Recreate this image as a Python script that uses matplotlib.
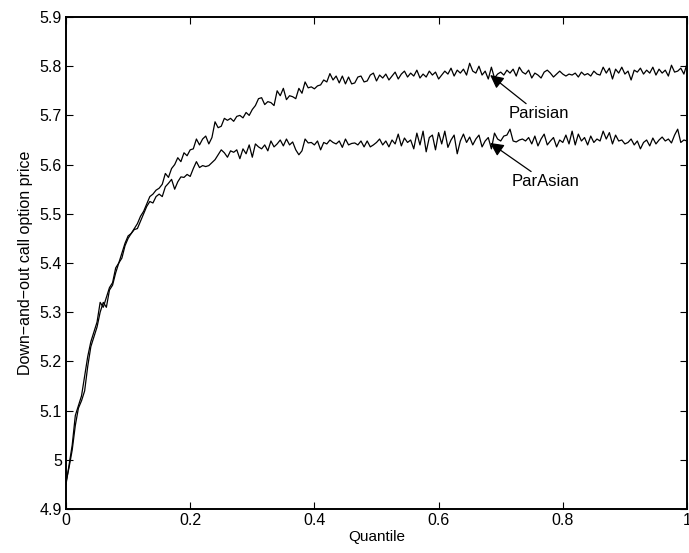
import numpy as np
import matplotlib
matplotlib.use("Agg")
import matplotlib.pyplot as plt

plt.rcParams['font.family'] = ['Liberation Sans', 'DejaVu Sans']

quantile = np.linspace(0, 1, 201)

parisian = [
    4.95, 4.99, 5.03, 5.09, 5.11, 5.13, 5.17, 5.21, 5.24, 5.26,
    5.28, 5.32, 5.31, 5.33, 5.35, 5.36, 5.39, 5.40, 5.42, 5.44,
    5.455, 5.46, 5.47, 5.48, 5.495, 5.505, 5.52, 5.535, 5.54, 5.548,
    5.552, 5.56, 5.582, 5.574, 5.592, 5.60, 5.614, 5.606, 5.624, 5.618,
    5.63, 5.632, 5.652, 5.64, 5.652, 5.658, 5.642, 5.655, 5.687, 5.675,
    5.678, 5.694, 5.69, 5.694, 5.688, 5.698, 5.70, 5.695, 5.706, 5.70,
    5.712, 5.72, 5.734, 5.736, 5.722, 5.728, 5.726, 5.72, 5.75, 5.74,
    5.755, 5.732, 5.74, 5.738, 5.734, 5.755, 5.745, 5.768, 5.756, 5.758,
    5.754, 5.76, 5.762, 5.772, 5.768, 5.785, 5.772, 5.78, 5.766, 5.78,
    5.764, 5.778, 5.764, 5.766, 5.778, 5.78, 5.768, 5.77, 5.782, 5.786,
    5.77,
    5.782, 5.776, 5.784, 5.772, 5.78, 5.788, 5.774, 5.784, 5.79, 5.778,
    5.786, 5.78, 5.792, 5.776, 5.784, 5.778, 5.79, 5.782, 5.788, 5.774,
    5.782, 5.79, 5.784, 5.796, 5.78, 5.792, 5.786, 5.794, 5.782, 5.806,
    5.79, 5.786, 5.80, 5.782, 5.79, 5.774, 5.798, 5.776, 5.784, 5.788,
    5.782, 5.792, 5.786, 5.794, 5.78, 5.798, 5.788, 5.784, 5.792, 5.776,
    5.786, 5.782, 5.776, 5.788, 5.792, 5.786, 5.778, 5.784, 5.79, 5.784,
    5.78, 5.784, 5.782, 5.786, 5.778, 5.788, 5.782, 5.785, 5.78, 5.79,
    5.784, 5.782, 5.798, 5.786, 5.796, 5.774, 5.794, 5.786, 5.798, 5.784,
    5.79, 5.772, 5.792, 5.788, 5.796, 5.784, 5.792, 5.786, 5.798, 5.782,
    5.794, 5.786, 5.792, 5.78, 5.802, 5.788, 5.79, 5.796, 5.784, 5.805,
]

parasian = [
    4.955, 4.985, 5.02, 5.07, 5.105, 5.12, 5.14, 5.19, 5.23, 5.25,
    5.27, 5.30, 5.32, 5.31, 5.345, 5.355, 5.38, 5.40, 5.41, 5.435,
    5.45, 5.46, 5.468, 5.47, 5.485, 5.50, 5.515, 5.525, 5.522, 5.535,
    5.54, 5.535, 5.555, 5.562, 5.57, 5.55, 5.565, 5.575, 5.574, 5.58,
    5.576, 5.592, 5.606, 5.594, 5.598, 5.596, 5.598, 5.604, 5.61, 5.62,
    5.63, 5.624, 5.615, 5.628, 5.625, 5.63, 5.612, 5.632, 5.622, 5.64,
    5.615, 5.642, 5.636, 5.632, 5.64, 5.628, 5.648, 5.636, 5.642, 5.65,
    5.638, 5.652, 5.64, 5.646, 5.63, 5.62, 5.628, 5.652, 5.644, 5.645,
    5.64, 5.648, 5.63, 5.645, 5.642, 5.65, 5.645, 5.642, 5.648, 5.635,
    5.652, 5.64, 5.643, 5.644, 5.64, 5.648, 5.636, 5.648, 5.636, 5.64,
    5.645,
    5.652, 5.64, 5.648, 5.636, 5.65, 5.642, 5.662, 5.638, 5.654, 5.645,
    5.65, 5.632, 5.664, 5.64, 5.668, 5.626, 5.655, 5.66, 5.63, 5.665,
    5.642, 5.668, 5.635, 5.65, 5.66, 5.622, 5.648, 5.662, 5.645, 5.656,
    5.64, 5.652, 5.66, 5.636, 5.648, 5.655, 5.632, 5.664, 5.652, 5.648,
    5.658, 5.66, 5.672, 5.648, 5.646, 5.65, 5.652, 5.648, 5.655, 5.642,
    5.658, 5.638, 5.652, 5.662, 5.64, 5.648, 5.655, 5.636, 5.65, 5.645,
    5.66, 5.642, 5.668, 5.64, 5.662, 5.648, 5.655, 5.64, 5.658, 5.645,
    5.652, 5.648, 5.668, 5.652, 5.665, 5.642, 5.66, 5.648, 5.65, 5.642,
    5.645, 5.652, 5.64, 5.648, 5.632, 5.645, 5.65, 5.638, 5.654, 5.642,
    5.65, 5.656, 5.648, 5.652, 5.644, 5.66, 5.672, 5.645, 5.65, 5.648,
]

xticks = [0, 0.2, 0.4, 0.6, 0.8, 1]
xticklabels = ["0", "0.2", "0.4", "0.6", "0.8", "1"]
yticks = [4.9, 5.0, 5.1, 5.2, 5.3, 5.4, 5.5, 5.6, 5.7, 5.8, 5.9]
yticklabels = ["4.9", "5", "5.1", "5.2", "5.3", "5.4", "5.5", "5.6", "5.7", "5.8", "5.9"]

fig = plt.figure(figsize=(6.89, 5.53), dpi=100)
ax = fig.add_axes([66/689, 44/553, 621/689, 492/553])

ax.plot(quantile, parisian, color='k', lw=0.9)
ax.plot(quantile, parasian, color='k', lw=0.9)

ax.set_xlim(0, 1)
ax.set_ylim(4.9, 5.9)
ax.set_xticks(xticks)
ax.set_xticklabels(xticklabels)
ax.set_yticks(yticks)
ax.set_yticklabels(yticklabels)
ax.tick_params(direction='in', top=True, right=True, length=5, width=0.8,
               labelsize=11.5, pad=3)
for s in ax.spines.values():
    s.set_linewidth(1.4)

ax.set_xlabel("Quantile", fontsize=11, labelpad=1)
ax.set_ylabel("Down\u2212and\u2212out call option price", fontsize=11.5, labelpad=5)

arrow = dict(arrowstyle='-|>', color='k', lw=0.9, mutation_scale=20,
             shrinkA=0, shrinkB=0)
ax.annotate("Parisian", xy=(0.683, 5.782), xytext=(0.713, 5.703),
            fontsize=12, ha='left', va='center', arrowprops=arrow)
ax.annotate("ParAsian", xy=(0.683, 5.644), xytext=(0.718, 5.565),
            fontsize=12, ha='left', va='center', arrowprops=arrow)

fig.savefig("out.png", dpi=100)
